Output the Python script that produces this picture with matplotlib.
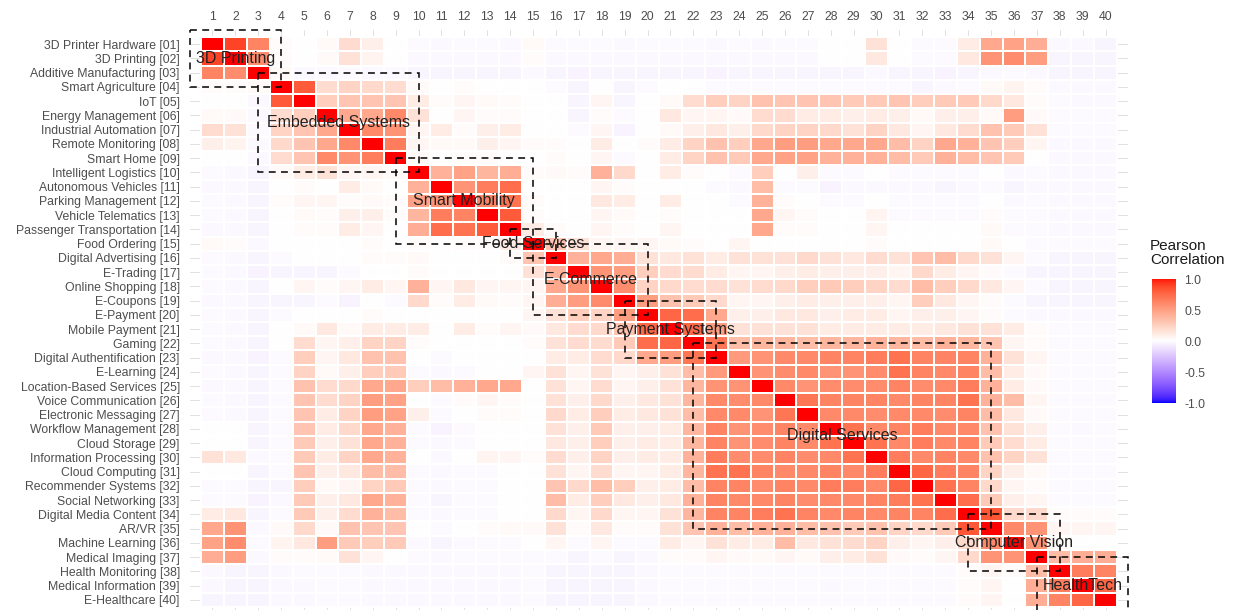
import matplotlib
matplotlib.use('Agg')
import matplotlib.pyplot as plt
import numpy as np
from matplotlib.colors import ListedColormap
from matplotlib.patches import Rectangle

plt.rcParams['font.family'] = ['Liberation Sans', 'DejaVu Sans']

topics = [
    '3D Printer Hardware', '3D Printing', 'Additive Manufacturing', 'Smart Agriculture',
    'IoT', 'Energy Management', 'Industrial Automation', 'Remote Monitoring',
    'Smart Home', 'Intelligent Logistics', 'Autonomous Vehicles', 'Parking Management',
    'Vehicle Telematics', 'Passenger Transportation', 'Food Ordering', 'Digital Advertising',
    'E-Trading', 'Online Shopping', 'E-Coupons', 'E-Payment',
    'Mobile Payment', 'Gaming', 'Digital Authentification', 'E-Learning',
    'Location-Based Services', 'Voice Communication', 'Electronic Messaging', 'Workflow Management',
    'Cloud Storage', 'Information Processing', 'Cloud Computing', 'Recommender Systems',
    'Social Networking', 'Digital Media Content', 'AR/VR', 'Machine Learning',
    'Medical Imaging', 'Health Monitoring', 'Medical Information', 'E-Healthcare',
]

cluster_names = ['3D Printing', 'Embedded Systems', 'Smart Mobility', 'Food Services',
                 'E-Commerce', 'Payment Systems', 'Digital Services', 'Computer Vision',
                 'HealthTech']
cluster_first = [1, 4, 10, 15, 16, 20, 23, 35, 38]
cluster_last = [3, 9, 14, 15, 19, 22, 34, 37, 40]

# upper triangle of the correlation matrix, row i holds columns i+1..40
upper = [
    [0.88, 0.62, 0.02, 0.00, 0.03, 0.18, 0.08, 0.00, -0.02,
     -0.03, -0.02, -0.02, -0.03, 0.03, -0.02, -0.02, -0.02, -0.03, -0.02,
     -0.02, -0.02, -0.03, -0.02, -0.03, -0.02, -0.02, 0.00, 0.00, 0.15,
     0.00, -0.02, -0.02, 0.10, 0.45, 0.48, 0.42, -0.03, -0.03, -0.04],
    [0.58, 0.02, 0.00, 0.03, 0.15, 0.06, 0.00, -0.03,
     -0.03, -0.03, -0.03, -0.03, 0.02, -0.03, -0.03, -0.03, -0.03, -0.03,
     -0.03, -0.03, -0.03, -0.03, -0.03, -0.03, -0.03, 0.00, 0.00, 0.12,
     0.00, -0.02, -0.02, 0.12, 0.55, 0.58, 0.50, -0.04, -0.04, -0.04],
    [0.03, -0.03, -0.03, -0.02, -0.03, -0.03, -0.04,
     -0.04, -0.04, -0.04, -0.04, -0.03, -0.04, -0.05, -0.04, -0.04, -0.04,
     -0.04, -0.04, -0.05, -0.04, -0.04, -0.04, -0.04, -0.04, -0.04, -0.03,
     -0.04, -0.04, -0.05, -0.04, -0.03, -0.02, -0.03, -0.04, -0.04, -0.04],
    [0.80, 0.18, 0.22, 0.20, 0.18, 0.03,
     0.00, 0.02, 0.00, 0.00, 0.00, -0.02, -0.04, 0.00, -0.04, -0.02,
     0.00, 0.00, -0.02, -0.02, -0.02, -0.02, -0.02, -0.02, -0.02, -0.02,
     -0.02, -0.04, -0.03, -0.02, 0.03, 0.06, 0.02, -0.03, -0.03, -0.03],
    [0.25, 0.30, 0.30, 0.30, 0.10,
     0.02, 0.05, 0.03, 0.02, 0.00, 0.00, -0.04, 0.05, -0.04, 0.00,
     0.03, 0.18, 0.25, 0.22, 0.32, 0.30, 0.30, 0.30, 0.28, 0.28,
     0.30, 0.25, 0.28, 0.28, 0.20, 0.12, 0.02, -0.02, -0.03, -0.03],
    [0.45, 0.45, 0.60, 0.15,
     0.00, 0.05, 0.02, 0.02, 0.00, 0.00, -0.04, 0.02, -0.02, 0.00,
     0.12, 0.05, 0.05, 0.03, 0.18, 0.18, 0.10, 0.10, 0.08, 0.10,
     0.08, 0.03, 0.08, 0.08, 0.03, 0.50, 0.03, -0.02, -0.02, -0.02],
    [0.60, 0.55, 0.05,
     0.10, 0.02, 0.08, 0.10, 0.00, 0.00, -0.02, 0.05, -0.05, 0.00,
     0.03, 0.08, 0.12, 0.08, 0.20, 0.22, 0.22, 0.20, 0.15, 0.22,
     0.12, 0.05, 0.12, 0.18, 0.32, 0.28, 0.15, -0.02, -0.02, -0.02],
    [0.65, 0.05,
     0.03, 0.03, 0.08, 0.05, 0.02, 0.02, 0.00, 0.10, 0.00, 0.02,
     0.10, 0.22, 0.32, 0.25, 0.45, 0.50, 0.50, 0.45, 0.45, 0.45,
     0.35, 0.22, 0.45, 0.40, 0.30, 0.25, 0.05, -0.03, -0.03, -0.03],
    [0.03,
     0.00, 0.02, 0.02, 0.00, 0.00, 0.02, 0.00, 0.05, -0.02, 0.00,
     0.10, 0.22, 0.32, 0.28, 0.45, 0.48, 0.48, 0.40, 0.40, 0.40,
     0.35, 0.28, 0.40, 0.35, 0.30, 0.28, 0.00, -0.03, -0.03, -0.03],
    [0.40, 0.48, 0.38, 0.42, 0.02, 0.03, 0.02, 0.40, 0.20, 0.00,
     0.10, 0.02, 0.00, -0.02, 0.25, 0.00, 0.08, -0.02, -0.02, 0.00,
     -0.02, -0.02, -0.02, -0.02, 0.00, -0.03, -0.02, -0.03, -0.03, -0.03],
    [0.55, 0.65, 0.72, 0.00, 0.00, 0.00, 0.05, 0.02, 0.00,
     0.00, 0.00, -0.02, -0.03, 0.35, -0.02, -0.02, -0.05, -0.03, -0.03,
     -0.03, -0.03, -0.04, -0.03, -0.02, -0.04, -0.03, -0.03, -0.03, -0.03],
    [0.62, 0.70, 0.02, 0.00, 0.00, 0.12, 0.10, 0.00,
     0.10, 0.00, 0.00, -0.02, 0.40, 0.02, 0.00, -0.02, -0.02, 0.00,
     -0.02, -0.02, -0.02, -0.02, 0.00, -0.03, -0.02, -0.03, -0.03, -0.03],
    [0.80, 0.02, 0.00, 0.00, 0.05, 0.03, 0.00,
     0.02, 0.00, 0.00, 0.00, 0.45, 0.05, 0.02, 0.00, 0.00, 0.06,
     -0.02, -0.02, -0.02, -0.02, 0.02, -0.02, -0.02, -0.03, -0.03, -0.03],
    [0.10, 0.02, 0.00, 0.05, 0.02, 0.00,
     0.05, 0.00, 0.00, 0.00, 0.45, 0.02, 0.02, 0.00, 0.00, 0.05,
     0.00, 0.00, 0.00, 0.00, 0.03, -0.02, -0.02, -0.03, -0.03, -0.03],
    [0.30, 0.15, 0.05, 0.05, 0.05,
     0.03, 0.02, 0.00, 0.05, 0.00, 0.00, 0.00, 0.00, 0.00, 0.02,
     0.00, 0.00, 0.00, 0.00, 0.03, 0.00, -0.02, -0.02, -0.02, -0.02],
    [0.40, 0.45, 0.42, 0.15,
     0.12, 0.15, 0.10, 0.15, 0.15, 0.15, 0.20, 0.15, 0.12, 0.18,
     0.15, 0.30, 0.35, 0.20, 0.15, 0.05, -0.02, -0.04, -0.04, -0.04],
    [0.55, 0.50, 0.25,
     0.18, 0.18, 0.10, 0.05, 0.05, 0.08, 0.10, 0.08, 0.08, 0.08,
     0.05, 0.20, 0.10, 0.05, 0.02, -0.02, -0.04, -0.04, -0.04, -0.04],
    [0.58, 0.22,
     0.20, 0.18, 0.18, 0.15, 0.18, 0.20, 0.25, 0.28, 0.25, 0.22,
     0.18, 0.35, 0.25, 0.20, 0.12, 0.05, -0.02, -0.04, -0.04, -0.04],
    [0.50,
     0.32, 0.28, 0.20, 0.05, 0.05, 0.08, 0.10, 0.08, 0.08, 0.08,
     0.05, 0.25, 0.12, 0.05, 0.02, -0.02, -0.04, -0.04, -0.04, -0.04],
    [0.75, 0.72, 0.45, 0.08, 0.08, 0.12, 0.12, 0.08, 0.10, 0.10,
     0.05, 0.08, 0.08, 0.05, 0.02, -0.02, -0.03, -0.03, -0.03, -0.03],
    [0.75, 0.50, 0.15, 0.15, 0.15, 0.15, 0.10, 0.10, 0.10,
     0.10, 0.10, 0.12, 0.15, 0.15, 0.10, 0.02, -0.02, -0.02, -0.02],
    [0.68, 0.35, 0.38, 0.38, 0.35, 0.38, 0.38, 0.40,
     0.38, 0.35, 0.40, 0.38, 0.30, 0.05, 0.02, -0.02, -0.02, -0.02],
    [0.52, 0.55, 0.60, 0.60, 0.62, 0.62, 0.65,
     0.70, 0.62, 0.62, 0.62, 0.40, 0.15, 0.05, -0.02, -0.02, -0.02],
    [0.55, 0.58, 0.60, 0.55, 0.55, 0.58,
     0.70, 0.62, 0.60, 0.62, 0.35, 0.10, 0.03, -0.02, -0.02, -0.02],
    [0.60, 0.55, 0.58, 0.58, 0.58,
     0.62, 0.58, 0.60, 0.65, 0.40, 0.10, 0.03, -0.02, -0.02, -0.02],
    [0.68, 0.62, 0.62, 0.62,
     0.60, 0.62, 0.62, 0.70, 0.40, 0.35, 0.05, -0.02, -0.02, -0.02],
    [0.60, 0.60, 0.58,
     0.60, 0.60, 0.58, 0.62, 0.35, 0.12, 0.03, -0.02, -0.02, -0.02],
    [0.70, 0.60,
     0.62, 0.65, 0.60, 0.60, 0.32, 0.15, 0.08, -0.02, -0.03, -0.02],
    [0.70,
     0.60, 0.65, 0.60, 0.62, 0.28, 0.18, 0.10, -0.02, -0.02, -0.02],
    [0.65, 0.60, 0.62, 0.60, 0.32, 0.22, 0.15, -0.02, -0.02, -0.02],
    [0.75, 0.65, 0.62, 0.22, 0.08, 0.03, -0.02, -0.02, -0.02],
    [0.70, 0.62, 0.20, 0.05, 0.02, -0.02, -0.02, -0.02],
    [0.72, 0.28, 0.08, 0.05, -0.02, -0.02, -0.02],
    [0.82, 0.20, 0.20, 0.02, 0.02, 0.02],
    [0.60, 0.55, 0.05, 0.05, 0.05],
    [0.55, 0.02, 0.00, 0.00],
    [0.35, 0.42, 0.42],
    [0.65, 0.62],
    [0.75],
]

n = len(topics)
corr = np.eye(n)
for i, row in enumerate(upper):
    if len(row) != n - 1 - i:
        raise RuntimeError(f'row {i + 1} has {len(row)} values')
    corr[i, i + 1:] = row
    corr[i + 1:, i] = row

# blue-white-red diverging scale interpolated in CIE Lab
_M = np.array([[0.4124564, 0.3575761, 0.1804375],
               [0.2126729, 0.7151522, 0.0721750],
               [0.0193339, 0.1191920, 0.9503041]])
_WHITE = np.array([0.95047, 1.0, 1.08883])
_D = 6 / 29


def srgb_to_lab(rgb):
    rgb = np.asarray(rgb, float)
    lin = np.where(rgb <= 0.04045, rgb / 12.92, ((rgb + 0.055) / 1.055) ** 2.4)
    xyz = _M @ lin / _WHITE
    f = np.where(xyz > _D ** 3, np.cbrt(xyz), xyz / (3 * _D ** 2) + 4 / 29)
    return np.array([116 * f[1] - 16, 500 * (f[0] - f[1]), 200 * (f[1] - f[2])])


def lab_to_srgb(lab):
    L, a, b = lab
    fy = (L + 16) / 116
    f = np.array([fy + a / 500, fy, fy - b / 200])
    xyz = np.where(f > _D, f ** 3, 3 * _D ** 2 * (f - 4 / 29)) * _WHITE
    lin = np.clip(np.linalg.solve(_M, xyz), 0, 1)
    return np.where(lin <= 0.0031308, 12.92 * lin, 1.055 * lin ** (1 / 2.4) - 0.055)


low, mid, high = srgb_to_lab([0, 0, 1]), srgb_to_lab([1, 1, 1]), srgb_to_lab([1, 0, 0])
colors = []
for t in np.linspace(-1, 1, 256):
    end = low if t < 0 else high
    colors.append(lab_to_srgb(mid + abs(t) * (end - mid)))
cmap = ListedColormap(np.clip(colors, 0, 1))

fig = plt.figure(figsize=(12.39, 6.10), dpi=100)
ax = fig.add_axes([0.15299, -0.00672, 0.75779, 0.95770])

edges = np.arange(0.5, n + 1.5)
ax.pcolormesh(edges, edges, corr, cmap=cmap, vmin=-1, vmax=1,
              edgecolors='white', linewidth=0.3)
ax.set_xlim(0, n + 1)
ax.set_ylim(n + 1, 0)
ax.set_xticks(range(1, n + 1), [str(i) for i in range(1, n + 1)])
ax.set_yticks(range(1, n + 1), [f'{t} [{i:02d}]' for i, t in enumerate(topics, start=1)])
ax.xaxis.tick_top()
ax.tick_params(length=0, colors='#4d4d4d', labelsize=8.8)
ax.tick_params(axis='x', pad=5)
ax.tick_params(axis='y', pad=7)
ax.grid(True, color='#dcdcdc', linewidth=0.6)
ax.set_axisbelow(True)
for spine in ax.spines.values():
    spine.set_visible(False)

for name, first, last in zip(cluster_names, cluster_first, cluster_last):
    x0, x1 = first - 1, last + 1
    ax.add_patch(Rectangle((x0, x0), x1 - x0, x1 - x0, fill=False, edgecolor='black',
                           linewidth=1.1, linestyle=(0, (4.5, 3.5)), clip_on=False, zorder=4))
    centre = (x0 + x1) / 2
    ax.text(centre, centre, name, ha='center', va='center', fontsize=11.5,
            color='#222222', zorder=5)

cax = fig.add_axes([0.92978, 0.33934, 0.01937, 0.20328])
cax.imshow(np.linspace(1, -1, 256)[:, None], aspect='auto', cmap=cmap, vmin=-1, vmax=1,
           extent=(0, 1, -1, 1))
cax.set_xticks([])
cax.yaxis.tick_right()
cax.set_yticks([-1, -0.5, 0, 0.5, 1], ['-1.0', '-0.5', '0.0', '0.5', '1.0'])
cax.tick_params(length=0, colors='#4d4d4d', labelsize=8.8, pad=6)
for spine in cax.spines.values():
    spine.set_visible(False)
fig.text(1150 / 1239, 1 - 253 / 610, 'Pearson\nCorrelation', fontsize=11,
         ha='left', va='center', linespacing=1.05, color='#1a1a1a')

fig.savefig('out.png', dpi=100)
plt.close(fig)
